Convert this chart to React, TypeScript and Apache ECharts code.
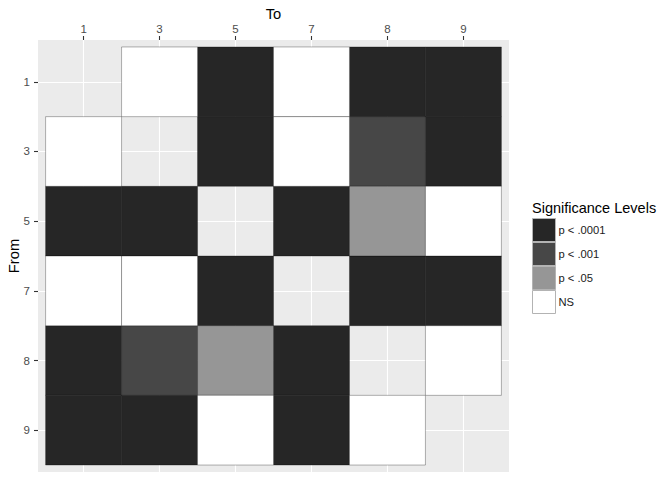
import React, { useEffect, useRef } from "react";
import * as echarts from "echarts";

const toLabels = ["1", "3", "5", "7", "8", "9"];
const fromLabels = ["1", "3", "5", "7", "8", "9"];
const levels = ["p < .0001", "p < .001", "p < .05", "NS"];
const levelColors = ["#262626", "#474747", "#969696", "#FFFFFF"];

// significance level for each "To" column, per "From" row ("" = no tile)
const from1 = ["", "NS", "p < .0001", "NS", "p < .0001", "p < .0001"];
const from3 = ["NS", "", "p < .0001", "NS", "p < .001", "p < .0001"];
const from5 = ["p < .0001", "p < .0001", "", "p < .0001", "p < .05", "NS"];
const from7 = ["NS", "NS", "p < .0001", "", "p < .0001", "p < .0001"];
const from8 = ["p < .0001", "p < .001", "p < .05", "p < .0001", "", "NS"];
const from9 = ["p < .0001", "p < .0001", "NS", "p < .0001", "NS", ""];
const rows = [from1, from3, from5, from7, from8, from9];

const FONT = "Liberation Sans, Arial, sans-serif";

export default function App() {
  const ref = useRef<HTMLDivElement>(null);
  useEffect(() => {
    if (!ref.current) return;
    document.body.style.margin = "0";
    const chart = echarts.init(ref.current, null, { renderer: "svg" });

    const series = levels.map((lvl, li) => {
      const data: number[][] = [];
      rows.forEach((row, yi) => {
        row.forEach((v, xi) => {
          if (v === lvl) data.push([xi, yi]);
        });
      });
      return {
        type: "custom",
        name: lvl,
        color: levelColors[li],
        data,
        renderItem: (params: any, api: any) => {
          const c = api.coord([api.value(0), api.value(1)]);
          const s = api.size([1, 1]);
          return {
            type: "rect",
            shape: { x: c[0] - s[0] / 2, y: c[1] - s[1] / 2, width: s[0], height: s[1] },
            style: { fill: levelColors[li], stroke: "rgba(0,0,0,0.3)", lineWidth: 1 },
          };
        },
      };
    });

    const idx = [0, 1, 2, 3, 4, 5];

    chart.setOption({
      animation: false,
      textStyle: { fontFamily: FONT },
      grid: {
        left: 38,
        right: 163,
        top: 40,
        bottom: 8,
        show: true,
        backgroundColor: "#EBEBEB",
        borderWidth: 0,
        containLabel: false,
        outerBoundsMode: "none",
      },
      xAxis: {
        type: "value",
        position: "top",
        min: -0.6,
        max: 5.6,
        name: "To",
        nameLocation: "middle",
        nameGap: 19,
        nameMoveOverlap: false,
        nameTextStyle: { fontSize: 14.7, color: "#000", fontFamily: FONT },
        axisLine: { show: false, onZero: false },
        axisTick: { show: true, length: 4, lineStyle: { color: "#333", width: 1.1 }, customValues: idx },
        axisLabel: {
          customValues: idx,
          formatter: (v: number) => toLabels[Math.round(v)],
          fontSize: 11.5,
          color: "#4D4D4D",
          margin: 5,
          fontFamily: FONT,
        },
        splitLine: { show: true, lineStyle: { color: "#FFFFFF", width: 1.1 } },
      },
      yAxis: {
        type: "value",
        inverse: true,
        min: -0.6,
        max: 5.6,
        name: "From",
        nameLocation: "middle",
        nameGap: 17,
        nameMoveOverlap: false,
        nameTextStyle: { fontSize: 14.7, color: "#000", fontFamily: FONT },
        axisLine: { show: false, onZero: false },
        axisTick: { show: true, length: 4, lineStyle: { color: "#333", width: 1.1 }, customValues: idx },
        axisLabel: {
          customValues: idx,
          formatter: (v: number) => fromLabels[Math.round(v)],
          fontSize: 11.5,
          color: "#4D4D4D",
          margin: 8,
          fontFamily: FONT,
        },
        splitLine: { show: true, lineStyle: { color: "#FFFFFF", width: 1.1 } },
      },
      legend: {
        orient: "vertical",
        left: 532,
        top: 218,
        padding: 0,
        itemGap: 0,
        itemWidth: 23,
        itemHeight: 23,
        icon: "rect",
        data: levels,
        itemStyle: { borderColor: "#B3B3B3", borderWidth: 1 },
        textStyle: { fontSize: 11.2, color: "#1A1A1A", fontFamily: FONT, padding: [0, 0, 0, -2] },
      },
      graphic: [
        {
          type: "text",
          left: 532,
          top: 200,
          style: { text: "Significance Levels", fontSize: 14.5, fill: "#000", fontFamily: FONT },
        },
      ],
      series,
    });
    return () => chart.dispose();
  }, []);
  return <div ref={ref} style={{ width: 672, height: 480 }} />;
}
